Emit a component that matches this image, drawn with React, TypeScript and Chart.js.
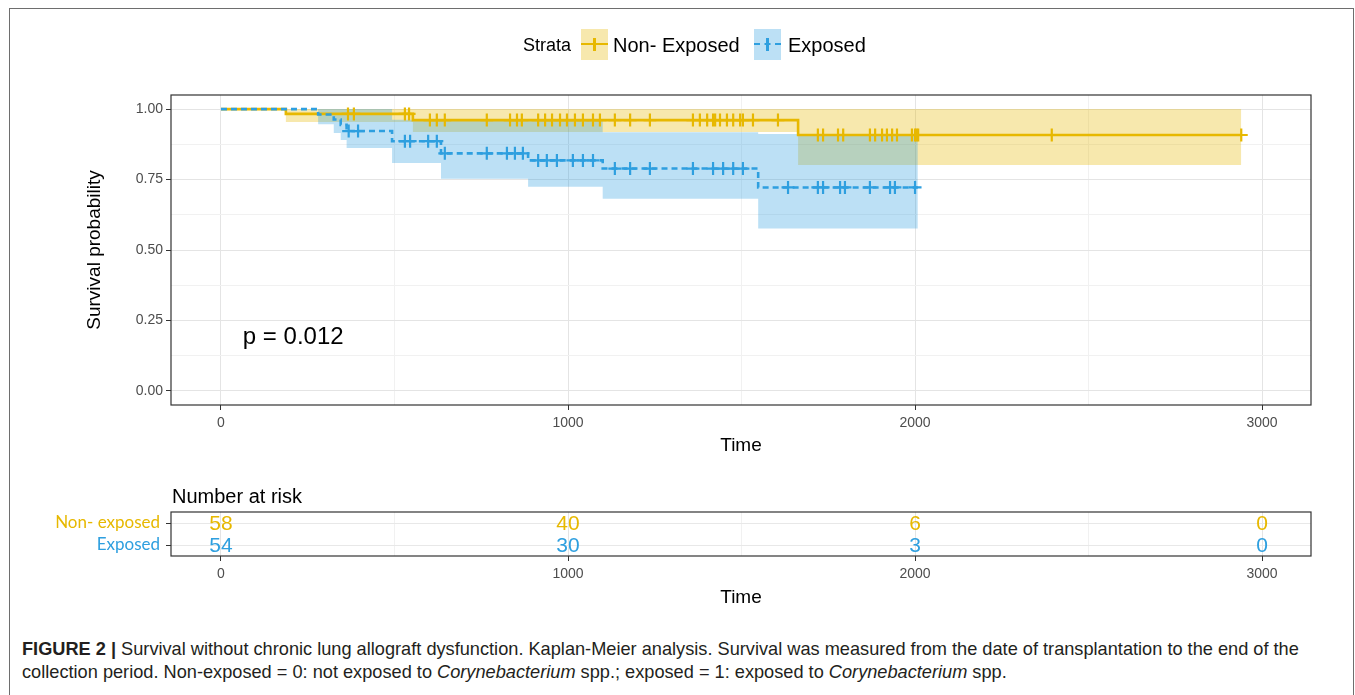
import React, { useEffect, useRef } from "react";
import { Chart, registerables } from "chart.js";

Chart.register(...registerables);

// ---------- colours ----------
const YELLOW = "#E7B800";
const BLUE = "#2E9FDF";
const YELLOW_CI = "rgba(231,184,0,0.32)";
const BLUE_CI = "rgba(46,159,223,0.32)";
const FONT = "'Liberation Sans', Arial, Helvetica, sans-serif";

// ---------- data: Non-exposed (Kaplan-Meier step function) ----------
const nonExpTimes = [0, 187, 553, 1663, 2940];
const nonExpSurv = [1, 0.983, 0.961, 0.908, 0.908];
const nonExpLower = [1, 0.954, 0.919, 0.802, 0.802];
const nonExpUpper = [1, 1, 1, 1, 1];
const nonExpCensorTimes = [
  366, 383, 530, 542, 602, 622, 645, 766, 833, 853, 867, 914, 934, 954, 977, 997,
  1020, 1043, 1072, 1092, 1135, 1179, 1236, 1360, 1380, 1401, 1418, 1424, 1438,
  1458, 1476, 1496, 1504, 1533, 1605, 1720, 1735, 1778, 1793, 1870, 1885, 1905,
  1919, 1934, 1948, 1991, 2000, 2004, 2009, 2394, 2940,
];

// ---------- data: Exposed ----------
const expTimes = [0, 280, 325, 345, 362, 493, 634, 885, 1100, 1548, 2008];
const expSurv = [1, 0.981, 0.963, 0.944, 0.922, 0.886, 0.843, 0.818, 0.789, 0.722, 0.722];
const expLower = [1, 0.946, 0.915, 0.89, 0.862, 0.809, 0.753, 0.724, 0.682, 0.576, 0.576];
const expUpper = [1, 1, 1, 1, 1, 0.962, 0.962, 0.962, 0.918, 0.912, 0.912];
const expCensorTimes = [
  368, 395, 530, 545, 597, 622, 645, 766, 824, 847, 870, 914, 939, 968, 1014, 1043,
  1072, 1135, 1179, 1236, 1360, 1418, 1447, 1476, 1504, 1634, 1720, 1735, 1784,
  1798, 1870, 1928, 1942, 2000,
];

// ---------- risk table ----------
const riskTimes = [0, 1000, 2000, 3000];
const riskNonExposed = [58, 40, 6, 0];
const riskExposed = [54, 30, 3, 0];
const riskRowLabels = ["Non- exposed", "Exposed"];

// ---------- ticks ----------
const xTickValues = [0, 1000, 2000, 3000];
const xTickLabels = ["0", "1000", "2000", "3000"];
const xMinorValues = [500, 1500, 2500];
const yTickValues = [0, 0.25, 0.5, 0.75, 1];
const yTickLabels = ["0.00", "0.25", "0.50", "0.75", "1.00"];
const yMinorValues = [0.125, 0.375, 0.625, 0.875];

const legendTitle = "Strata";
const legendLabels = ["Non- Exposed", "Exposed"];
const pValueText = "p = 0.012";

// ---------- helpers ----------
const pts = (xs: number[], ys: number[]) => xs.map((x, i) => ({ x, y: ys[i] }));
const survAt = (times: number[], surv: number[], t: number) => {
  let v = surv[0];
  for (let i = 0; i < times.length; i++) if (times[i] <= t) v = surv[i];
  return v;
};
const inList = (list: number[], v: number) => list.some((m) => Math.abs(m - v) < 1e-9);

const X_MIN = -144;
const X_MAX = 3141;

const xScaleBase = (height: number) => ({
  type: "linear" as const,
  min: X_MIN,
  max: X_MAX,
  afterBuildTicks: (s: any) => {
    s.ticks = [...xTickValues, ...xMinorValues].sort((a, b) => a - b).map((v) => ({ value: v }));
  },
  afterFit: (s: any) => {
    s.height = height;
  },
  ticks: {
    autoSkip: false,
    maxRotation: 0,
    padding: 5,
    color: "#4d4d4d",
    font: { size: 14, family: FONT },
    callback: (v: any) => {
      const i = xTickValues.indexOf(Number(v));
      return i >= 0 ? xTickLabels[i] : "";
    },
  },
  grid: {
    color: (c: any) => (c.tick && inList(xTickValues, c.tick.value) ? "#e4e4e4" : "#f1f1f1"),
    lineWidth: 1,
    tickLength: 5,
    tickWidth: 1,
    tickColor: (c: any) => (c.tick && inList(xTickValues, c.tick.value) ? "#333333" : "rgba(0,0,0,0)"),
  },
  border: { display: false },
});

function KMChart() {
  const ref = useRef<HTMLCanvasElement>(null);
  useEffect(() => {
    const decor = {
      id: "kmDecor",
      afterDraw(chart: any) {
        const { ctx, chartArea: a, scales } = chart;
        ctx.save();
        ctx.strokeStyle = "#333333";
        ctx.lineWidth = 1.2;
        ctx.strokeRect(a.left, a.top, a.right - a.left, a.bottom - a.top);
        ctx.fillStyle = "#000000";
        ctx.textAlign = "center";
        ctx.textBaseline = "middle";
        ctx.font = `19px ${FONT}`;
        ctx.fillText("Time", (a.left + a.right) / 2, 446);
        ctx.save();
        ctx.translate(95, (a.top + a.bottom) / 2);
        ctx.rotate(-Math.PI / 2);
        ctx.fillText("Survival probability", 0, 0);
        ctx.restore();
        ctx.textAlign = "left";
        ctx.font = `24px ${FONT}`;
        ctx.fillText(pValueText, scales.x.getPixelForValue(63), scales.y.getPixelForValue(0.19));
        ctx.restore();
      },
    };

    const chart = new Chart(ref.current as HTMLCanvasElement, {
      type: "line",
      data: {
        datasets: [
          {
            label: "exp censor",
            data: expCensorTimes.map((t) => ({ x: t, y: survAt(expTimes, expSurv, t) })),
            showLine: false,
            pointStyle: "cross",
            pointRadius: 6.5,
            pointBorderWidth: 2.2,
            pointBorderColor: BLUE,
            borderColor: BLUE,
            order: 1,
          },
          {
            label: "nonexp censor",
            data: nonExpCensorTimes.map((t) => ({ x: t, y: survAt(nonExpTimes, nonExpSurv, t) })),
            showLine: false,
            pointStyle: "cross",
            pointRadius: 6.5,
            pointBorderWidth: 2.2,
            pointBorderColor: YELLOW,
            borderColor: YELLOW,
            order: 2,
          },
          {
            label: "Exposed",
            data: pts(expTimes, expSurv),
            stepped: "before",
            borderColor: BLUE,
            borderWidth: 2.6,
            borderDash: [6, 4],
            pointRadius: 0,
            fill: false,
            order: 3,
          },
          {
            label: "Non- Exposed",
            data: pts(nonExpTimes, nonExpSurv),
            stepped: "before",
            borderColor: YELLOW,
            borderWidth: 2.6,
            pointRadius: 0,
            fill: false,
            order: 4,
          },
          {
            label: "exp lower",
            data: pts(expTimes, expLower),
            stepped: "before",
            borderWidth: 0,
            borderColor: "rgba(0,0,0,0)",
            pointRadius: 0,
            fill: false,
            order: 8,
          },
          {
            label: "exp upper",
            data: pts(expTimes, expUpper),
            stepped: "before",
            borderWidth: 0,
            borderColor: "rgba(0,0,0,0)",
            backgroundColor: BLUE_CI,
            pointRadius: 0,
            fill: "-1",
            order: 7,
          },
          {
            label: "nonexp lower",
            data: pts(nonExpTimes, nonExpLower),
            stepped: "before",
            borderWidth: 0,
            borderColor: "rgba(0,0,0,0)",
            pointRadius: 0,
            fill: false,
            order: 10,
          },
          {
            label: "nonexp upper",
            data: pts(nonExpTimes, nonExpUpper),
            stepped: "before",
            borderWidth: 0,
            borderColor: "rgba(0,0,0,0)",
            backgroundColor: YELLOW_CI,
            pointRadius: 0,
            fill: "-1",
            order: 9,
          },
        ],
      },
      options: {
        responsive: false,
        animation: false,
        events: [],
        layout: { padding: { top: 95, right: 44, left: 0, bottom: 0 } },
        plugins: { legend: { display: false }, tooltip: { enabled: false }, title: { display: false } },
        scales: {
          x: xScaleBase(65) as any,
          y: {
            type: "linear",
            min: -0.05,
            max: 1.05,
            afterBuildTicks: (s: any) => {
              s.ticks = [...yTickValues, ...yMinorValues].sort((a, b) => a - b).map((v) => ({ value: v }));
            },
            afterFit: (s: any) => {
              s.width = 171;
            },
            ticks: {
              autoSkip: false,
              padding: 3,
              color: "#4d4d4d",
              font: { size: 14, family: FONT },
              callback: (v: any) => {
                const i = yTickValues.findIndex((m) => Math.abs(m - Number(v)) < 1e-9);
                return i >= 0 ? yTickLabels[i] : "";
              },
            },
            grid: {
              color: (c: any) => (c.tick && inList(yTickValues, c.tick.value) ? "#e4e4e4" : "#f1f1f1"),
              lineWidth: 1,
              tickLength: 5,
              tickWidth: 1,
              tickColor: (c: any) => (c.tick && inList(yTickValues, c.tick.value) ? "#333333" : "rgba(0,0,0,0)"),
            },
            border: { display: false },
          },
        },
      } as any,
      plugins: [decor],
    });
    return () => chart.destroy();
  }, []);
  return (
    <canvas
      ref={ref}
      width={1355}
      height={470}
      style={{ position: "absolute", left: 0, top: 0, width: 1355, height: 470 }}
    />
  );
}

function RiskTable() {
  const ref = useRef<HTMLCanvasElement>(null);
  useEffect(() => {
    const decor = {
      id: "riskDecor",
      afterDraw(chart: any) {
        const { ctx, chartArea: a } = chart;
        ctx.save();
        ctx.strokeStyle = "#333333";
        ctx.lineWidth = 1.2;
        ctx.strokeRect(a.left, a.top, a.right - a.left, a.bottom - a.top);
        ctx.textAlign = "center";
        ctx.textBaseline = "middle";
        ctx.font = `21px 'Liberation Sans Narrow', ${FONT}`;
        const rows = [
          { i: 0, vals: riskNonExposed, color: YELLOW },
          { i: 1, vals: riskExposed, color: BLUE },
        ];
        rows.forEach((r) => {
          const meta = chart.getDatasetMeta(r.i);
          ctx.fillStyle = r.color;
          meta.data.forEach((el: any, j: number) => {
            ctx.fillText(String(r.vals[j]), el.x, el.y + 1.5);
          });
        });
        ctx.fillStyle = "#000000";
        ctx.textAlign = "left";
        ctx.textBaseline = "alphabetic";
        ctx.font = `20px ${FONT}`;
        ctx.fillText("Number at risk", a.left + 1, 33);
        ctx.textAlign = "center";
        ctx.textBaseline = "middle";
        ctx.font = `19px ${FONT}`;
        ctx.fillText("Time", (a.left + a.right) / 2, 128);
        ctx.restore();
      },
    };
    const chart = new Chart(ref.current as HTMLCanvasElement, {
      type: "line",
      data: {
        datasets: [
          {
            label: riskRowLabels[0],
            data: riskTimes.map((t) => ({ x: t, y: 2 })),
            showLine: false,
            pointRadius: 0,
          },
          {
            label: riskRowLabels[1],
            data: riskTimes.map((t) => ({ x: t, y: 1 })),
            showLine: false,
            pointRadius: 0,
          },
        ],
      },
      options: {
        responsive: false,
        animation: false,
        events: [],
        layout: { padding: { top: 42, right: 44, left: 0, bottom: 0 } },
        plugins: { legend: { display: false }, tooltip: { enabled: false }, title: { display: false } },
        scales: {
          x: xScaleBase(64) as any,
          y: {
            type: "linear",
            min: 0.5,
            max: 2.5,
            afterBuildTicks: (s: any) => {
              s.ticks = [{ value: 1 }, { value: 2 }];
            },
            afterFit: (s: any) => {
              s.width = 171;
            },
            ticks: {
              autoSkip: false,
              padding: 6,
              color: (c: any) => (c.tick && c.tick.value === 2 ? YELLOW : BLUE),
              font: { size: 17, family: "Lato, 'Open Sans', sans-serif" },
              callback: (v: any) => (Number(v) === 2 ? riskRowLabels[0] : riskRowLabels[1]),
            },
            grid: {
              color: "#e8e8e8",
              lineWidth: 1,
              tickLength: 5,
              tickWidth: 1,
              tickColor: "#333333",
            },
            border: { display: false },
          },
        },
      } as any,
      plugins: [decor],
    });
    return () => chart.destroy();
  }, []);
  return (
    <canvas
      ref={ref}
      width={1355}
      height={150}
      style={{ position: "absolute", left: 0, top: 470, width: 1355, height: 150 }}
    />
  );
}

function LegendKey({ left, color, fill, dashed }: { left: number; color: string; fill: string; dashed?: boolean }) {
  return (
    <div style={{ position: "absolute", left, top: 29, width: 27, height: 31, background: fill }}>
      <div
        style={{
          position: "absolute",
          left: 0,
          right: 0,
          top: 14,
          height: 0,
          borderTop: `2.5px ${dashed ? "dashed" : "solid"} ${color}`,
        }}
      />
      <div style={{ position: "absolute", left: 12, top: 9, width: 2.5, height: 13, background: color }} />
    </div>
  );
}

export default function App() {
  const textStyle: React.CSSProperties = {
    position: "absolute",
    fontFamily: FONT,
    fontSize: 20,
    lineHeight: "22px",
    color: "#000",
    whiteSpace: "nowrap",
  };
  return (
    <div
      style={{
        position: "absolute",
        left: 0,
        top: 0,
        width: 1355,
        height: 695,
        overflow: "hidden",
        background: "#fff",
      }}
    >
      <div
        style={{
          position: "absolute",
          left: 9,
          top: 8,
          width: 1343,
          height: 700,
          border: "1px solid #6e6e6e",
        }}
      />
      <KMChart />
      <RiskTable />
      <div style={{ ...textStyle, left: 471, width: 100, textAlign: "right", top: 34, fontSize: 18 }}>{legendTitle}</div>
      <LegendKey left={581} color={YELLOW} fill={YELLOW_CI} />
      <div style={{ ...textStyle, left: 613, top: 34 }}>{legendLabels[0]}</div>
      <LegendKey left={754} color={BLUE} fill={BLUE_CI} dashed />
      <div style={{ ...textStyle, left: 788, top: 34 }}>{legendLabels[1]}</div>
      <div
        style={{
          position: "absolute",
          left: 22,
          top: 638,
          fontFamily: FONT,
          fontSize: 18.2,
          lineHeight: "23px",
          color: "#231f20",
          whiteSpace: "nowrap",
        }}
      >
        <div>
          <b>FIGURE 2 |</b> Survival without chronic lung allograft dysfunction. Kaplan-Meier analysis. Survival was
          measured from the date of transplantation to the end of the
        </div>
        <div>
          collection period. Non-exposed = 0: not exposed to <i>Corynebacterium</i> spp.; exposed = 1: exposed to{" "}
          <i>Corynebacterium</i> spp.
        </div>
      </div>
    </div>
  );
}
